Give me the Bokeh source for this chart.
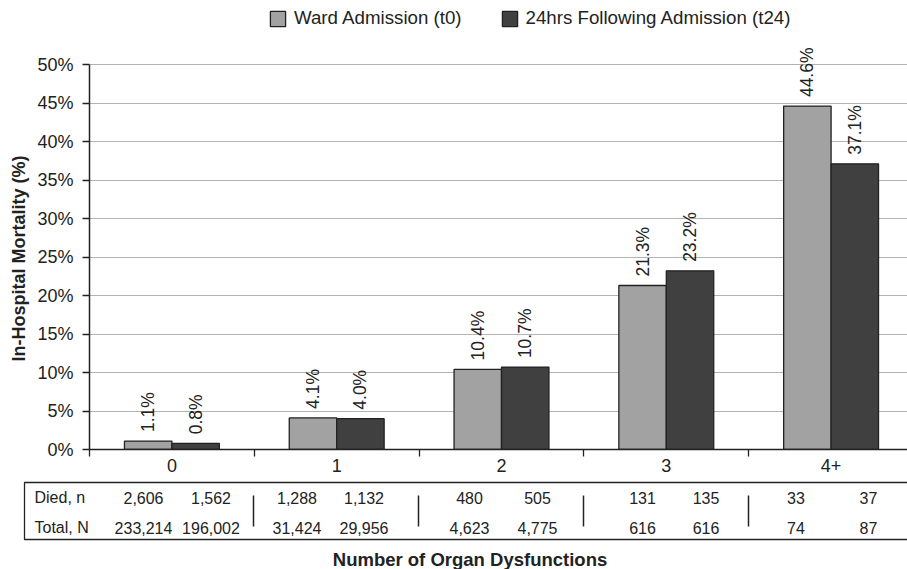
import numpy as np
from bokeh.plotting import figure
from bokeh.models import (ColumnDataSource, Range1d, FixedTicker, PrintfTickFormatter,
                          LabelSet, Legend, LegendItem, Label, Title)
from bokeh.layouts import column
from bokeh.core.properties import value
from bokeh.embed import file_html
from bokeh.resources import INLINE

# ---------------- data ----------------
categories = ["0", "1", "2", "3", "4+"]
series_names = ["Ward Admission (t0)", "24hrs Following Admission (t24)"]
mortality_t0 = [1.1, 4.1, 10.4, 21.3, 44.6]
mortality_t24 = [0.8, 4.0, 10.7, 23.2, 37.1]
died_t0 = [2606, 1288, 480, 131, 33]
died_t24 = [1562, 1132, 505, 135, 37]
total_t0 = [233214, 31424, 4623, 616, 74]
total_t24 = [196002, 29956, 4775, 616, 87]
row_labels = ["Died, n", "Total, N"]
y_ticks = [0, 5, 10, 15, 20, 25, 30, 35, 40, 45, 50]

# ---------------- style / layout ----------------
FONT = "Liberation Sans"
INK = "#222222"
LIGHT = "#a2a2a2"
DARK = "#404040"
GRID = "#b3b3b3"

W = 907
H1 = 478
H2 = 569 - H1
LEFT = 88           # frame left (px)
BOTTOM1 = 29        # below-axis panel of the chart
CAT_PX = 165.0      # pixels per category
PX_PER_PCT = 7.7    # pixels per percentage point
x_end = (W - LEFT) / CAT_PX
BAR_W = 47.5 / CAT_PX
y_end = (H1 - BOTTOM1) / PX_PER_PCT

idx = np.arange(len(categories))
centers = idx + 0.5

src0 = ColumnDataSource(dict(x=centers - BAR_W / 2, top=mortality_t0,
                             label=[f"{v:.1f}%" for v in mortality_t0]))
src1 = ColumnDataSource(dict(x=centers + BAR_W / 2, top=mortality_t24,
                             label=[f"{v:.1f}%" for v in mortality_t24]))

p = figure(width=W, height=H1, x_range=Range1d(0, x_end), y_range=Range1d(0, y_end),
           output_backend="svg", toolbar_location=None,
           min_border_left=LEFT, min_border_right=0, min_border_top=0,
           min_border_bottom=BOTTOM1)
p.frame_align = False
p.outline_line_color = None
p.background_fill_color = "white"
p.border_fill_color = "white"

r0 = p.vbar(x="x", top="top", width=BAR_W, bottom=0, source=src0,
            fill_color=LIGHT, line_color=INK, line_width=1.3)
r1 = p.vbar(x="x", top="top", width=BAR_W, bottom=0, source=src1,
            fill_color=DARK, line_color=INK, line_width=1.3)

for s in (src0, src1):
    p.add_layout(LabelSet(x="x", y="top", text="label", source=s, angle=np.pi / 2,
                          text_align="left", text_baseline="middle", y_offset=9,
                          text_font=value(FONT), text_font_size=value("17.5px"),
                          text_color=INK))

# y axis
p.yaxis.ticker = FixedTicker(ticks=y_ticks)
p.yaxis.formatter = PrintfTickFormatter(format="%d%%")
p.yaxis.bounds = (0, 50)
p.yaxis.major_tick_out = 7
p.yaxis.major_tick_in = 0
p.yaxis.minor_tick_out = 0
p.yaxis.minor_tick_in = 0
p.yaxis.major_label_standoff = 9

# y axis title, centred on the 0-50% span (placed as a side title)
p.add_layout(Title(text="In-Hospital Mortality (%)", align="left", offset=88,
                   vertical_align="bottom", standoff=12, text_font=FONT,
                   text_font_size="18px", text_font_style="bold", text_color=INK), "left")

# x axis
p.xaxis.ticker = FixedTicker(ticks=list(centers), minor_ticks=list(idx.astype(float)))
p.xaxis.major_label_overrides = {float(c): cat for c, cat in zip(centers, categories)}
p.xaxis.major_tick_out = 0
p.xaxis.major_tick_in = 0
p.xaxis.minor_tick_out = 7
p.xaxis.minor_tick_in = 0
p.xaxis.major_label_standoff = 2

for ax in (p.xaxis, p.yaxis):
    ax.axis_line_color = INK
    ax.axis_line_width = 1.5
    ax.major_tick_line_color = INK
    ax.minor_tick_line_color = INK
    ax.major_tick_line_width = 1.3
    ax.minor_tick_line_width = 1.3
    ax.major_label_text_font = FONT
    ax.major_label_text_font_size = "18px"
    ax.major_label_text_color = INK

p.xgrid.grid_line_color = None
p.ygrid.grid_line_color = GRID
p.ygrid.grid_line_width = 1
p.ygrid.ticker = FixedTicker(ticks=y_ticks)

legend = Legend(items=[LegendItem(label=series_names[0], renderers=[r0]),
                       LegendItem(label=series_names[1], renderers=[r1])],
                location=(179, 420), orientation="horizontal",
                glyph_width=19, glyph_height=19, label_standoff=7, spacing=38,
                padding=0, margin=0, border_line_color=None, background_fill_alpha=0,
                label_text_font=FONT, label_text_font_size="18.7px", label_text_color=INK)
p.add_layout(legend)

# ---------------- table figure (y in pixel units from its bottom) ----------------
x2_start = -LEFT / CAT_PX
t = figure(width=W, height=H2, x_range=Range1d(x2_start, x_end), y_range=Range1d(0, H2),
           output_backend="svg", toolbar_location=None,
           x_axis_location=None, y_axis_location=None,
           min_border_left=0, min_border_right=0, min_border_top=0, min_border_bottom=0)
t.frame_align = False
t.grid.visible = False
t.outline_line_color = None
t.background_fill_color = "white"
t.border_fill_color = "white"

def ty_of(page_y):
    return H1 + H2 - page_y

t.quad(left=[(24 - LEFT) / CAT_PX], right=[x_end + 1], bottom=[ty_of(539)], top=[ty_of(482)],
       fill_color=None, line_color=INK, line_width=1.3)

row_y = [ty_of(497), ty_of(527)]
t.text(x=[(34 - LEFT) / CAT_PX] * 2, y=row_y, text=row_labels,
       text_align="left", text_baseline="middle", text_font=value(FONT),
       text_font_size=value("16px"), text_color=INK)

off0 = np.array([-27.5, -39, -31.5, -23.5, -35]) / CAT_PX
off1 = np.array([40, 28, 36.5, 40, 37.5]) / CAT_PX
tx = list(centers + off0) * 2 + list(centers + off1) * 2
tyy = [row_y[0]] * 5 + [row_y[1]] * 5 + [row_y[0]] * 5 + [row_y[1]] * 5
tt = [f"{v:,}" for v in died_t0] + [f"{v:,}" for v in total_t0] + \
     [f"{v:,}" for v in died_t24] + [f"{v:,}" for v in total_t24]
t.text(x=tx, y=tyy, text=tt, text_align="center", text_baseline="middle",
       text_font=value(FONT), text_font_size=value("16px"), text_color=INK)

t.segment(x0=idx[1:], y0=ty_of(526), x1=idx[1:], y1=ty_of(495), line_color=INK, line_width=1.5)

t.add_layout(Label(x=(469.5 - LEFT) / CAT_PX, y=ty_of(558.5), text="Number of Organ Dysfunctions",
                   text_align="center", text_baseline="middle", text_font=FONT,
                   text_font_size="18.5px", text_font_style="bold", text_color=INK))

layout = column(p, t, spacing=0)
open("out.html", "w").write(file_html(layout, INLINE))
